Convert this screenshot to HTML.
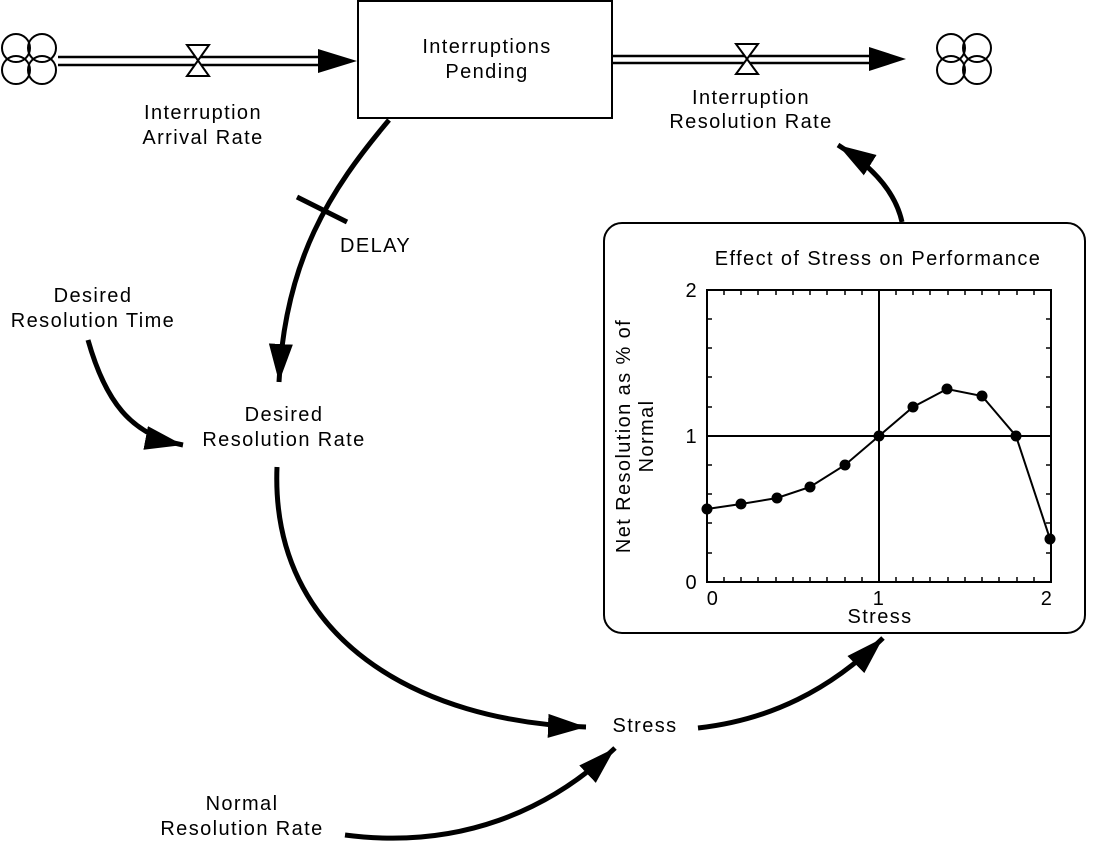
<!DOCTYPE html>
<html><head><meta charset="utf-8"><style>
html,body{margin:0;padding:0;background:#fff}
svg{display:block}
text{font-family:"Liberation Sans",sans-serif;font-size:20px;letter-spacing:1.4px;fill:#000}
</style></head><body>
<svg width="1100" height="844" viewBox="0 0 1100 844" xmlns="http://www.w3.org/2000/svg">
<defs>
<marker id="a" markerUnits="userSpaceOnUse" markerWidth="42" markerHeight="28" refX="38" refY="14" orient="auto">
<path d="M0,2 L38,14 L0,26 Z" fill="#000"/>
</marker>
</defs>
<!-- clouds -->
<g fill="none" stroke="#000" stroke-width="2">
<circle cx="16" cy="48" r="14"/><circle cx="42" cy="48" r="14"/><circle cx="16" cy="70" r="14"/><circle cx="42" cy="70" r="14"/>
<circle cx="951" cy="48" r="14"/><circle cx="977" cy="48" r="14"/><circle cx="951" cy="70" r="14"/><circle cx="977" cy="70" r="14"/>
</g>
<!-- pipes -->
<g stroke="#000" stroke-width="2.5">
<line x1="58" y1="57" x2="325" y2="57"/><line x1="58" y1="65" x2="325" y2="65"/>
<line x1="612" y1="56" x2="875" y2="56"/><line x1="612" y1="63" x2="875" y2="63"/>
</g>
<path d="M318,49 L357,61 L318,73 Z" fill="#000"/>
<path d="M869,47 L906,59 L869,71 Z" fill="#000"/>
<!-- valves -->
<g fill="#fff" stroke="#000" stroke-width="2">
<path d="M187,45 L209,45 L187,76 L209,76 Z"/>
<path d="M736,44 L758,44 L736,74 L758,74 Z"/>
</g>
<!-- stock -->
<rect x="358" y="1" width="254" height="117" fill="#fff" stroke="#000" stroke-width="2"/>
<text x="487" y="53" text-anchor="middle">Interruptions</text>
<text x="487" y="78" text-anchor="middle">Pending</text>
<text x="203" y="119" text-anchor="middle">Interruption</text>
<text x="203" y="144" text-anchor="middle">Arrival Rate</text>
<text x="751" y="104" text-anchor="middle">Interruption</text>
<text x="751" y="128" text-anchor="middle">Resolution Rate</text>
<!-- connectors -->
<g fill="none" stroke="#000" stroke-width="5" marker-end="url(#a)">
<path d="M389,120 C330,190 285,260 279,382"/>
<path d="M88,340 C105,400 130,435 183,445"/>
<path d="M277,467 C270,640 420,722 586,727"/>
<path d="M345,835 C460,850 550,810 615,748"/>
<path d="M698,728 C770,720 830,690 883,638"/>
<path d="M902,222 C895,190 870,165 838,145"/>
</g>
<line x1="297" y1="197" x2="347" y2="222" stroke="#000" stroke-width="5"/>
<text x="340" y="252">DELAY</text>
<text x="93" y="302" text-anchor="middle">Desired</text>
<text x="93" y="327" text-anchor="middle">Resolution Time</text>
<text x="284" y="421" text-anchor="middle">Desired</text>
<text x="284" y="446" text-anchor="middle">Resolution Rate</text>
<text x="645" y="732" text-anchor="middle">Stress</text>
<text x="242" y="810" text-anchor="middle">Normal</text>
<text x="242" y="835" text-anchor="middle">Resolution Rate</text>
<!-- graph box -->
<rect x="604" y="223" width="481" height="410" rx="18" fill="#fff" stroke="#000" stroke-width="2"/>
<text x="878" y="265" text-anchor="middle">Effect of Stress on Performance</text>
<rect x="707" y="290" width="344" height="292" fill="none" stroke="#000" stroke-width="2"/>
<g stroke="#000" stroke-width="2">
<line x1="879" y1="290" x2="879" y2="582"/><line x1="707" y1="436" x2="1051" y2="436"/>
</g>
<g stroke="#000" stroke-width="1.5">
<path d="M724,582v-5M741,582v-5M758,582v-5M776,582v-5M793,582v-5M810,582v-5M827,582v-5M845,582v-5M862,582v-5M896,582v-5M913,582v-5M930,582v-5M948,582v-5M965,582v-5M982,582v-5M999,582v-5M1017,582v-5M1034,582v-5"/>
<path d="M724,290v5M741,290v5M758,290v5M776,290v5M793,290v5M810,290v5M827,290v5M845,290v5M862,290v5M896,290v5M913,290v5M930,290v5M948,290v5M965,290v5M982,290v5M999,290v5M1017,290v5M1034,290v5"/>
<path d="M707,319h5M707,348h5M707,377h5M707,407h5M707,465h5M707,494h5M707,523h5M707,553h5"/>
<path d="M1051,319h-5M1051,348h-5M1051,377h-5M1051,407h-5M1051,465h-5M1051,494h-5M1051,523h-5M1051,553h-5"/>
</g>
<polyline points="707,509 741,504 777,498 810,487 845,465 879,436 913,407 947,389 982,396 1016,436 1050,539" fill="none" stroke="#000" stroke-width="2"/>
<g fill="#000">
<circle cx="707" cy="509" r="5.5"/><circle cx="741" cy="504" r="5.5"/><circle cx="777" cy="498" r="5.5"/><circle cx="810" cy="487" r="5.5"/><circle cx="845" cy="465" r="5.5"/><circle cx="879" cy="436" r="5.5"/><circle cx="913" cy="407" r="5.5"/><circle cx="947" cy="389" r="5.5"/><circle cx="982" cy="396" r="5.5"/><circle cx="1016" cy="436" r="5.5"/><circle cx="1050" cy="539" r="5.5"/>
</g>
<text x="698" y="297" text-anchor="end">2</text>
<text x="698" y="443" text-anchor="end">1</text>
<text x="698" y="589" text-anchor="end">0</text>
<text x="713" y="605" text-anchor="middle">0</text>
<text x="879" y="605" text-anchor="middle">1</text>
<text x="1047" y="605" text-anchor="middle">2</text>
<text x="880" y="623" text-anchor="middle">Stress</text>
<text transform="translate(630,436) rotate(-90)" text-anchor="middle">Net Resolution as % of</text>
<text transform="translate(653,436) rotate(-90)" text-anchor="middle">Normal</text>
</svg>
</body></html>
